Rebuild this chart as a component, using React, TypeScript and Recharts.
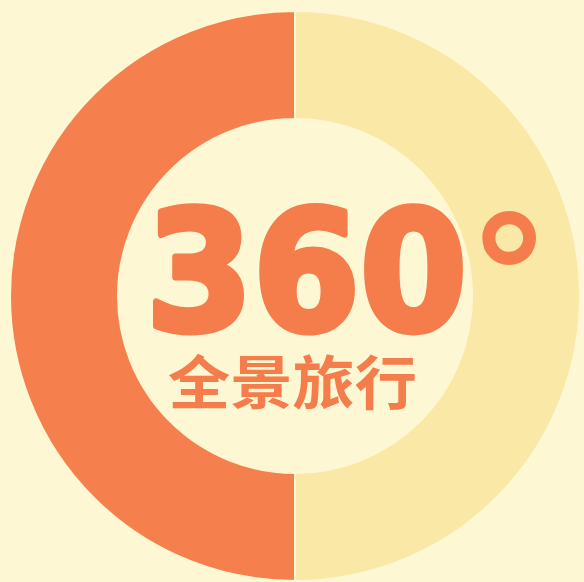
import React from 'react';
import { PieChart, Pie, Cell, Label } from 'recharts';

const categories = ['已游览', '待探索'];
const values = [50, 50];
const colors = ['#f5804d', '#f9e8a6'];
const titleNumber = '360';
const titleDegree = '°';
const subtitle = '全景旅行';

const data = categories.map((name, i) => ({ name, value: values[i] }));

const BG = '#fdf8d3';
const TEXT = '#f47d4b';

const CenterLabel = (props: any) => {
  const vb = props.viewBox || {};
  const cx = vb.cx ?? 295;
  const cy = vb.cy ?? 296;
  return (
    <text fill={TEXT} fontFamily="DejaVu Sans" fontWeight="bold">
      <tspan
        x={cx - 149}
        y={cy + 34}
        stroke={TEXT}
        strokeWidth={7}
        strokeLinejoin="round"
        fontSize={165}
        textLength={321}
        lengthAdjust="spacingAndGlyphs"
      >
        {titleNumber}
      </tspan>
      <tspan x={cx + 173} y={cy + 39} fontSize={165}>
        {titleDegree}
      </tspan>
      <tspan
        x={cx - 127}
        y={cy + 108}
        fontFamily="Noto Sans CJK SC"
        fontSize={58}
        textLength={249}
        lengthAdjust="spacingAndGlyphs"
      >
        {subtitle}
      </tspan>
    </text>
  );
};

export default function App() {
  return (
    <div style={{ position: 'absolute', left: 0, top: 0, width: 584, height: 582, background: BG }}>
      <PieChart width={584} height={582} margin={{ top: 0, right: 0, bottom: 0, left: 0 }}>
        <Pie
          data={data}
          dataKey="value"
          nameKey="name"
          cx={295}
          cy={296}
          innerRadius={177}
          outerRadius={285}
          startAngle={90}
          endAngle={450}
          stroke={BG}
          strokeWidth={2}
          isAnimationActive={false}
        >
          {data.map((d, i) => (
            <Cell key={d.name} fill={colors[i]} />
          ))}
          <Label position="center" content={<CenterLabel />} />
        </Pie>
      </PieChart>
    </div>
  );
}
